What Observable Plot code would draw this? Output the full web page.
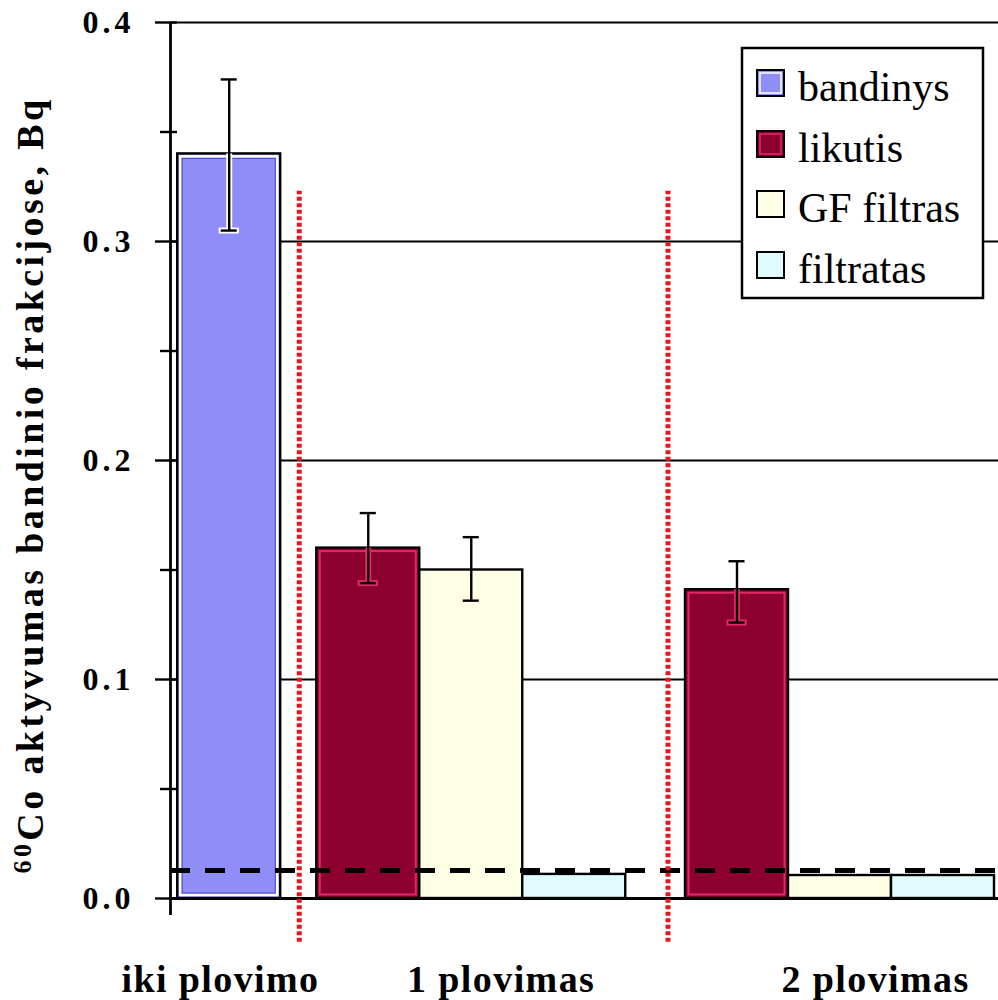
<!DOCTYPE html>
<html><head><meta charset="utf-8">
<script src="https://cdn.jsdelivr.net/npm/d3@7"></script>
<script src="https://cdn.jsdelivr.net/npm/@observablehq/plot@0.6"></script>
<style>
html,body{margin:0;padding:0;background:#fff;}
</style></head><body><div id="chart"></div>
<script>
// ---- data ----
const groups = ["iki plovimo", "1 plovimas", "2 plovimas"];
const series = ["bandinys", "likutis", "GF filtras", "filtratas"];
const groupSeries = [["bandinys"], ["likutis", "GF filtras", "filtratas"], ["likutis", "GF filtras", "filtratas"]];
const values = [[0.340], [0.160, 0.150, 0.011], [0.141, 0.0105, 0.0105]];
const errLow = [[0.305], [0.144, 0.136, null], [0.126, null, null]];
const errHigh = [[0.374], [0.176, 0.165, null], [0.154, null, null]];
const detectionLimit = 0.0128;
const yTicks = [0, 0.1, 0.2, 0.3, 0.4];
const yMinorTicks = [0.05, 0.15, 0.25, 0.35];
const yTitle = ["60", "Co aktyvumas bandinio frakcijose, Bq"];

// ---- styles / layout ----
const fillColor = {"bandinys": "#8e8ef6", "likutis": "#8c0030", "GF filtras": "#ffffe6", "filtratas": "#e0fbfb"};
const groupStart = [0.07, 1.42, 5.0];     // in bar-width units
const labelShift = [-0.085, 0.29, 0.345];
const sepShift = 0.17;
const capHalf = 0.078;
const xMax = 828 / 103;

const bars = [];
groups.forEach((g, gi) => groupSeries[gi].forEach((s, si) => bars.push({
  group: g, series: s, value: values[gi][si], lo: errLow[gi][si], hi: errHigh[gi][si],
  x1: groupStart[gi] + si, x2: groupStart[gi] + si + 1, xc: groupStart[gi] + si + 0.5
})));
const errs = bars.filter(d => d.lo != null);
const seps = [1, 2].map(gi => groupStart[gi] - sepShift);
const labels = groups.map((g, gi) => ({g, x: groupStart[gi] + groupSeries[gi].length / 2 + labelShift[gi]}));

const serif = "'Liberation Serif', 'Times New Roman', serif";

const plot = Plot.plot({
  width: 998, height: 1000,
  marginLeft: 170, marginRight: 0, marginTop: 22, marginBottom: 102,
  x: {type: "linear", domain: [0, xMax], axis: null},
  y: {domain: [0, 0.4], axis: null},
  style: {fontFamily: serif, background: "#fff", overflow: "visible"},
  marks: [
    Plot.ruleY(yTicks.slice(1), {stroke: "#000", strokeWidth: 2}),
    Plot.rect(bars, {x1: "x1", x2: "x2", y1: 0, y2: "value", fill: d => fillColor[d.series], stroke: "#000", strokeWidth: 2.4}),
    Plot.rect(bars.filter(d => d.series === "bandinys"), {x1: "x1", x2: "x2", y1: 0, y2: "value", inset: 3, fill: "none", stroke: "#fff", strokeWidth: 2.5}),
    Plot.rect(bars.filter(d => d.series === "bandinys"), {x1: "x1", x2: "x2", y1: 0, y2: "value", inset: 5, fill: "none", stroke: "#4a4ad0", strokeWidth: 1}),
    Plot.rect(bars.filter(d => d.series === "likutis"), {x1: "x1", x2: "x2", y1: 0, y2: "value", inset: 3.5, fill: "none", stroke: "#e2286a", strokeWidth: 2}),
    // error bar halos inside bars
    Plot.ruleX(errs.filter(d => d.series !== "GF filtras"), {x: "xc", y1: "lo", y2: "value", stroke: d => d.series === "likutis" ? "#e2286a" : "#fff", strokeWidth: 6}),
    Plot.ruleY(errs.filter(d => d.series !== "GF filtras"), {y: "lo", x1: d => d.xc - capHalf - 0.02, x2: d => d.xc + capHalf + 0.02, stroke: d => d.series === "likutis" ? "#e2286a" : "#fff", strokeWidth: 6}),
    Plot.ruleX(errs, {x: "xc", y1: "lo", y2: "hi", stroke: "#000", strokeWidth: 2.4}),
    Plot.ruleY(errs, {y: "lo", x1: d => d.xc - capHalf, x2: d => d.xc + capHalf, stroke: "#000", strokeWidth: 2.4}),
    Plot.ruleY(errs, {y: "hi", x1: d => d.xc - capHalf, x2: d => d.xc + capHalf, stroke: "#000", strokeWidth: 2.4}),
    // zero line and axis line
    Plot.ruleY([0], {stroke: "#000", strokeWidth: 2.8}),
    Plot.ruleX([0], {y1: -0.0078, y2: 0.4, stroke: "#000", strokeWidth: 2.8}),
    Plot.axisY(yTicks, {tickSize: 22, dx: 7, fill: "none", stroke: "#000", strokeWidth: 2.4, label: null}),
    Plot.axisY(yMinorTicks, {tickSize: 17, dx: 7, fill: "none", stroke: "#000", strokeWidth: 2.4, label: null}),
    Plot.axisY(yTicks, {tickSize: 0, tickPadding: 36, tickFormat: ".1f", fontSize: 32, fontWeight: "bold", fill: "#000", label: null}),
    // detection limit
    Plot.ruleY([detectionLimit], {stroke: "#000", strokeWidth: 5, strokeDasharray: "20,15"}),
    // separators
    Plot.ruleX(seps, {y1: -0.02, y2: 0.323, stroke: "#e8141e", strokeWidth: 5, strokeDasharray: "4,2.5"}),
    // category labels
    Plot.text(labels, {x: "x", y: 0, text: "g", dy: 93, lineAnchor: "bottom", fontSize: 38, fontWeight: "bold", fill: "#000"})
  ]
});
document.getElementById("chart").appendChild(plot);

const svg = d3.select(plot);
svg.selectAll('g[aria-label="y-axis tick label"] text, g[aria-label="y-axis tick label"]').style("letter-spacing", "4px");
svg.selectAll('g[aria-label="text"]').style("letter-spacing", "1.4px");

// y title
const t = svg.append("text")
  .attr("transform", "translate(43,485) rotate(-90)")
  .attr("text-anchor", "middle")
  .style("font-family", serif).style("font-weight", "bold").style("font-size", "38px")
  .style("letter-spacing", "3.4px").attr("fill", "#000");
t.append("tspan").style("font-size", "26px").attr("dy", -12).text(yTitle[0]);
t.append("tspan").attr("dy", 12).text(yTitle[1]);

// legend
const lg = svg.append("g").attr("text-anchor", "start");
lg.append("rect").attr("x", 742).attr("y", 48).attr("width", 241).attr("height", 250)
  .attr("fill", "#fff").attr("stroke", "#000").attr("stroke-width", 2.5);
const base = [101, 162, 222, 283];
series.forEach((s, i) => {
  const y0 = base[i] - 31;
  lg.append("rect").attr("x", 757).attr("y", y0).attr("width", 27).attr("height", 26)
    .attr("fill", fillColor[s]).attr("stroke", "#000").attr("stroke-width", 2);
  if (s === "bandinys") lg.append("rect").attr("x", 760).attr("y", y0 + 3).attr("width", 21).attr("height", 20)
    .attr("fill", "none").attr("stroke", "#fff").attr("stroke-width", 1.5);
  if (s === "likutis") lg.append("rect").attr("x", 760).attr("y", y0 + 3).attr("width", 21).attr("height", 20)
    .attr("fill", "none").attr("stroke", "#e2286a").attr("stroke-width", 1.5);
  lg.append("text").attr("x", 798).attr("y", base[i]).attr("text-anchor", "start")
    .style("font-family", serif).style("font-size", "42px").attr("fill", "#000").text(s);
});
</script></body></html>
